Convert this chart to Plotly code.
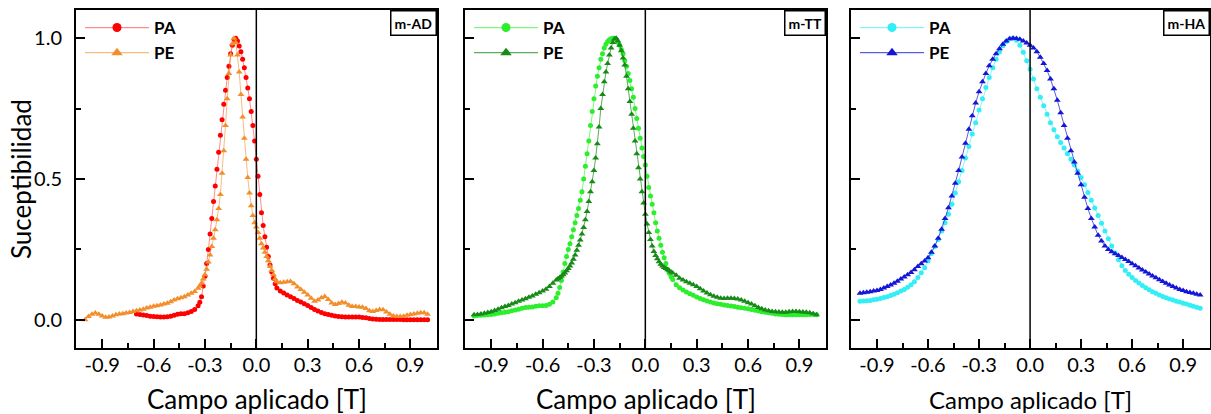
import plotly.graph_objects as go

# ---------------- data ----------------
# Panel m-AD
FIELD_AD_PA = [-0.70,-0.68,-0.66,-0.64,-0.62,-0.60,-0.58,-0.56,-0.54,-0.52,-0.50,-0.48,-0.46,-0.44,-0.42,-0.40,-0.38,-0.36,-0.34,
               -0.33,-0.32,-0.31,-0.30,-0.29,-0.28,-0.27,-0.26,-0.25,-0.24,-0.23,-0.22,-0.21,-0.20,-0.19,-0.18,-0.17,-0.16,-0.15,-0.14,-0.13,-0.12,
               -0.11,-0.10,-0.09,-0.08,-0.07,-0.06,-0.05,-0.04,-0.03,-0.02,-0.01,
               0.00,0.01,0.02,0.03,0.04,0.05,0.06,0.07,0.08,0.09,0.10,0.11,0.12,
               0.14,0.16,0.18,0.20,0.22,0.24,0.26,0.28,0.30,0.32,0.34,0.36,0.38,0.40,0.42,0.44,0.46,0.48,0.50,0.52,
               0.54,0.56,0.58,0.60,0.62,0.64,0.66,0.68,0.70,0.72,0.74,0.76,0.78,0.80,0.82,0.84,0.86,0.88,0.90,0.92,
               0.94,0.96,0.98,1.00]
SUSC_AD_PA = [0.021,0.019,0.017,0.015,0.013,0.012,0.011,0.010,0.010,0.011,0.013,0.016,0.020,0.022,0.022,0.025,0.030,0.037,0.050,
              0.062,0.082,0.12,0.155,0.20,0.25,0.305,0.36,0.42,0.475,0.535,0.595,0.655,0.71,0.765,0.815,0.86,0.90,0.945,0.975,0.995,1.0,
              0.99,0.972,0.952,0.925,0.895,0.86,0.823,0.785,0.74,0.69,0.635,
              0.57,0.51,0.445,0.38,0.335,0.295,0.258,0.225,0.195,0.17,0.148,0.128,0.113,
              0.102,0.095,0.088,0.082,0.076,0.069,0.063,0.057,0.051,0.044,0.037,0.031,0.026,0.022,0.019,0.016,0.014,0.012,0.011,0.010,
              0.010,0.010,0.010,0.010,0.008,0.007,0.005,0.003,0.002,0.001,0.001,0.001,0.001,0.001,0.001,0.001,0.000,0.000,0.000,0.000,
              0.000,0.000,0.000,0.000]

FIELD_AD_PE = [-1.00,-0.98,-0.96,-0.94,-0.92,-0.90,-0.88,-0.86,-0.84,-0.82,-0.80,-0.78,-0.76,-0.74,-0.72,-0.70,-0.68,-0.66,-0.64,-0.62,
               -0.60,-0.58,-0.56,-0.54,-0.52,-0.50,-0.48,-0.46,-0.44,-0.42,-0.40,-0.38,-0.36,-0.34,
               -0.33,-0.32,-0.31,-0.30,-0.29,-0.28,-0.27,-0.26,-0.25,-0.24,-0.23,-0.22,-0.21,-0.20,-0.19,-0.18,-0.17,-0.16,-0.15,-0.14,-0.13,-0.12,
               -0.11,-0.10,-0.09,-0.08,-0.07,-0.06,-0.05,-0.04,-0.03,-0.02,-0.01,
               0.00,0.01,0.02,0.03,0.04,0.05,0.06,0.07,0.08,0.09,0.10,0.11,0.12,
               0.14,0.16,0.18,0.20,0.22,0.24,0.26,0.28,0.30,0.32,0.34,0.36,0.38,0.40,0.42,0.44,0.46,0.48,0.50,0.52,
               0.54,0.56,0.58,0.60,0.62,0.64,0.66,0.68,0.70,0.72,0.74,0.76,0.78,0.80,0.82,0.84,0.86,0.88,0.90,0.92,
               0.94,0.96,0.98,1.00]
SUSC_AD_PE = [0.000,0.012,0.020,0.024,0.020,0.014,0.009,0.010,0.014,0.018,0.021,0.022,0.024,0.026,0.030,0.032,0.035,0.038,0.042,0.045,
              0.048,0.050,0.053,0.056,0.059,0.064,0.070,0.075,0.078,0.082,0.088,0.094,0.101,0.112,
              0.12,0.13,0.145,0.16,0.18,0.205,0.23,0.26,0.29,0.32,0.355,0.395,0.445,0.52,0.60,0.69,0.785,0.875,0.94,0.98,1.0,0.985,
              0.94,0.88,0.80,0.72,0.645,0.57,0.505,0.45,0.405,0.37,0.345,
              0.33,0.31,0.29,0.27,0.255,0.24,0.225,0.21,0.19,0.175,0.16,0.145,0.135,
              0.132,0.133,0.135,0.136,0.128,0.117,0.108,0.098,0.088,0.077,0.066,0.070,0.078,0.083,0.072,0.060,0.054,0.058,0.062,0.060,
              0.052,0.047,0.047,0.046,0.045,0.040,0.032,0.030,0.033,0.037,0.036,0.028,0.020,0.014,0.012,0.012,0.013,0.016,0.019,0.021,
              0.023,0.025,0.025,0.020]

# Panel m-TT
FIELD_TT = [-1.00,-0.98,-0.96,-0.94,-0.92,-0.90,-0.88,-0.86,-0.84,-0.82,-0.80,-0.78,-0.76,-0.74,-0.72,-0.70,-0.68,-0.66,-0.64,-0.62,
            -0.60,-0.58,-0.56,-0.54,-0.52,
            -0.51,-0.50,-0.49,-0.48,-0.47,-0.46,-0.45,-0.44,-0.43,-0.42,
            -0.41,-0.40,-0.39,-0.38,-0.37,-0.36,-0.35,-0.34,-0.33,-0.32,
            -0.31,-0.30,-0.29,-0.28,-0.27,-0.26,-0.25,-0.24,-0.23,-0.22,
            -0.21,-0.20,-0.19,-0.18,-0.17,-0.16,-0.15,-0.14,-0.13,-0.12,
            -0.11,-0.10,-0.09,-0.08,-0.07,-0.06,-0.05,-0.04,-0.03,-0.02,
            -0.01,0.00,0.01,0.02,0.03,0.04,0.05,0.06,0.07,0.08,
            0.09,0.10,0.11,0.12,0.13,0.14,0.15,0.16,
            0.18,0.20,0.22,0.24,0.26,0.28,0.30,0.32,0.34,0.36,
            0.38,0.40,0.42,0.44,0.46,0.48,0.50,0.52,0.54,0.56,
            0.58,0.60,0.62,0.64,0.66,0.68,0.70,0.72,0.74,0.76,
            0.78,0.80,0.82,0.84,0.86,0.88,0.90,0.92,0.94,0.96,
            0.98,1.00]
SUSC_TT_PA = [0.014,0.015,0.016,0.017,0.018,0.019,0.021,0.023,0.025,0.027,0.029,0.032,0.035,0.038,0.041,0.044,0.045,0.046,0.048,0.050,
              0.050,0.051,0.055,0.063,0.078,
              0.094,0.115,0.14,0.17,0.20,0.225,0.25,0.27,0.295,0.32,
              0.345,0.37,0.395,0.425,0.455,0.50,0.545,0.59,0.635,0.69,
              0.74,0.785,0.83,0.865,0.895,0.925,0.945,0.965,0.978,0.988,
              0.994,0.998,1.0,1.0,0.995,0.985,0.975,0.96,0.945,0.92,
              0.90,0.875,0.85,0.82,0.79,0.75,0.715,0.68,0.645,0.61,
              0.58,0.55,0.51,0.47,0.44,0.41,0.38,0.345,0.315,0.29,
              0.265,0.24,0.22,0.20,0.18,0.165,0.153,0.143,
              0.125,0.114,0.106,0.099,0.093,0.087,0.081,0.076,0.071,0.067,
              0.063,0.060,0.057,0.055,0.053,0.051,0.049,0.047,0.045,0.043,
              0.041,0.039,0.037,0.034,0.031,0.029,0.027,0.025,0.023,0.021,
              0.020,0.019,0.018,0.018,0.018,0.018,0.018,0.018,0.018,0.019,
              0.019,0.018]
SUSC_TT_PE = [0.018,0.019,0.021,0.023,0.026,0.029,0.033,0.038,0.043,0.047,0.051,0.056,0.061,0.066,0.070,0.075,0.080,0.085,0.091,0.096,
              0.102,0.109,0.118,0.130,0.141,
              0.146,0.150,0.155,0.160,0.166,0.174,0.182,0.191,0.202,0.215,
              0.23,0.247,0.265,0.283,0.305,0.328,0.355,0.385,0.42,0.455,
              0.49,0.53,0.575,0.625,0.685,0.75,0.80,0.845,0.88,0.91,
              0.94,0.965,0.985,0.997,1.0,0.99,0.975,0.955,0.93,0.905,
              0.865,0.82,0.775,0.73,0.68,0.635,0.59,0.54,0.50,0.455,
              0.415,0.375,0.34,0.31,0.285,0.262,0.243,0.228,0.217,0.206,
              0.197,0.191,0.186,0.182,0.178,0.174,0.17,0.166,
              0.158,0.148,0.141,0.135,0.130,0.125,0.118,0.110,0.102,0.095,
              0.089,0.084,0.080,0.077,0.076,0.077,0.077,0.076,0.074,0.070,
              0.066,0.061,0.056,0.050,0.044,0.039,0.035,0.032,0.030,0.029,
              0.028,0.027,0.027,0.029,0.030,0.030,0.029,0.028,0.027,0.025,
              0.022,0.018]

# Panel m-HA
FIELD_HA = [-1.00,-0.98,-0.96,-0.94,-0.92,-0.90,-0.88,-0.86,-0.84,-0.82,
            -0.80,-0.78,-0.76,-0.74,-0.72,-0.70,-0.68,-0.66,-0.64,-0.62,
            -0.60,-0.58,-0.56,-0.54,-0.52,-0.50,-0.48,-0.46,-0.44,-0.42,
            -0.40,-0.38,-0.36,-0.34,-0.32,-0.30,-0.28,-0.26,-0.24,-0.22,
            -0.20,-0.18,-0.16,-0.14,-0.12,-0.10,-0.08,-0.06,-0.04,-0.02,
            0.00,0.02,0.04,0.06,0.08,0.10,0.12,0.14,0.16,0.18,
            0.20,0.22,0.24,0.26,0.28,0.30,0.32,0.34,0.36,0.38,
            0.40,0.42,0.44,0.46,0.48,0.50,0.52,0.54,0.56,0.58,
            0.60,0.62,0.64,0.66,0.68,0.70,0.72,0.74,0.76,0.78,
            0.80,0.82,0.84,0.86,0.88,0.90,0.92,0.94,0.96,0.98,
            1.00]
SUSC_HA_PA = [0.066,0.067,0.068,0.069,0.071,0.073,0.076,0.079,0.082,0.086,
              0.091,0.096,0.102,0.108,0.116,0.125,0.135,0.150,0.167,0.185,
              0.21,0.235,0.26,0.285,0.315,0.345,0.375,0.41,0.45,0.49,
              0.53,0.575,0.615,0.66,0.70,0.745,0.785,0.825,0.86,0.895,
              0.925,0.952,0.973,0.988,0.997,1.0,0.993,0.975,0.95,0.92,
              0.89,0.855,0.82,0.79,0.76,0.73,0.70,0.675,0.65,0.63,
              0.61,0.59,0.57,0.55,0.528,0.505,0.48,0.452,0.425,0.397,
              0.37,0.343,0.315,0.288,0.262,0.237,0.213,0.192,0.175,0.162,
              0.150,0.140,0.131,0.122,0.114,0.107,0.100,0.094,0.088,0.083,
              0.078,0.074,0.070,0.066,0.063,0.059,0.056,0.052,0.048,0.045,
              0.041]
SUSC_HA_PE = [0.094,0.096,0.098,0.100,0.102,0.104,0.108,0.113,0.118,0.124,
              0.130,0.137,0.145,0.152,0.160,0.168,0.178,0.189,0.199,0.209,
              0.22,0.24,0.262,0.29,0.322,0.36,0.398,0.44,0.485,0.53,
              0.578,0.627,0.677,0.725,0.77,0.81,0.845,0.875,0.902,0.925,
              0.945,0.962,0.978,0.99,0.998,1.0,0.999,0.996,0.99,0.983,
              0.975,0.965,0.952,0.932,0.91,0.885,0.855,0.82,0.78,0.735,
              0.69,0.645,0.60,0.56,0.52,0.48,0.435,0.395,0.36,0.33,
              0.30,0.28,0.262,0.25,0.242,0.235,0.228,0.221,0.214,0.207,
              0.199,0.192,0.184,0.177,0.170,0.163,0.156,0.149,0.142,0.136,
              0.130,0.124,0.118,0.113,0.108,0.104,0.100,0.097,0.094,0.091,
              0.088]

SERIES_NAMES = ["PA", "PE"]
PANEL_LABELS = ["m-AD", "m-TT", "m-HA"]
X_TICKS = [-0.9, -0.6, -0.3, 0.0, 0.3, 0.6, 0.9]
X_TICK_LABELS = ["-0.9", "-0.6", "-0.3", "0.0", "0.3", "0.6", "0.9"]
Y_TICKS = [0.0, 0.5, 1.0]
Y_TICK_LABELS = ["0.0", "0.5", "1.0"]
X_TITLE = "Campo aplicado [T]"
Y_TITLE = "Suceptibilidad"

# ---------------- styling / layout ----------------
W, H = 1211, 414
FONT = "Lato"

def fx(p):
    return p / W

def fy(p):
    return 1 - p / H

panels = [
    dict(xd=[fx(76), fx(437)], pa=(FIELD_AD_PA, SUSC_AD_PA), pe=(FIELD_AD_PE, SUSC_AD_PE),
         c_pa="#ff0000", c_pe="#f28e2b", l_pa="rgba(255,0,0,0.45)", l_pe="rgba(242,142,43,0.6)", tsize=26),
    dict(xd=[fx(465), fx(826)], pa=(FIELD_TT, SUSC_TT_PA), pe=(FIELD_TT, SUSC_TT_PE),
         c_pa="#2cee2c", c_pe="#178a17", l_pa="rgba(44,238,44,0.6)", l_pe="rgba(23,138,23,0.7)", tsize=26),
    dict(xd=[fx(851), fx(1209.5)], pa=(FIELD_HA, SUSC_HA_PA), pe=(FIELD_HA, SUSC_HA_PE),
         c_pa="#33eef5", c_pe="#1515d8", l_pa="rgba(51,238,245,0.6)", l_pe="rgba(21,21,216,0.7)", tsize=24),
]
YD = [fy(348), fy(10)]
XR = [-1.053, 1.055]
YR = [-0.1, 1.1]

fig = go.Figure()
layout = dict(
    width=W, height=H, margin=dict(l=0, r=0, t=0, b=0),
    paper_bgcolor="white", plot_bgcolor="white",
    font=dict(family=FONT, color="black"),
    showlegend=True, shapes=[], annotations=[],
)

for i, p in enumerate(panels):
    n = "" if i == 0 else str(i + 1)
    xa, ya = "x" + n, "y" + n
    leg = "legend" + n
    for key, sym, msize, col, lcol, nm in [
        ("pa", "circle", 5, p["c_pa"], p["l_pa"], SERIES_NAMES[0]),
        ("pe", "triangle-up", 6, p["c_pe"], p["l_pe"], SERIES_NAMES[1]),
    ]:
        xs, ys = p[key]
        fig.add_trace(go.Scatter(
            x=xs, y=ys, mode="lines+markers", xaxis=xa, yaxis=ya,
            line=dict(color=lcol, width=1),
            marker=dict(symbol=sym, size=msize, color=col, line=dict(width=0)),
            showlegend=False, hoverinfo="skip"))
        # legend entry with larger symbol
        fig.add_trace(go.Scatter(
            x=[None], y=[None], mode="lines+markers", xaxis=xa, yaxis=ya,
            line=dict(color=lcol, width=1.2),
            marker=dict(symbol=sym, size=9 if sym == "circle" else 10, color=col, line=dict(width=0)),
            name="<b>%s</b>" % nm, legend=leg, showlegend=True))

    layout["xaxis" + n] = dict(
        domain=p["xd"], anchor=ya, range=XR, showline=True, linecolor="black", linewidth=2,
        mirror=True, ticks="inside", ticklen=9, tickwidth=1.5, tickcolor="black",
        tickmode="array", tickvals=X_TICKS, ticktext=X_TICK_LABELS, ticklabelstandoff=-2,
        tickfont=dict(family=FONT, size=20, color="black"),
        minor=dict(ticks="inside", ticklen=5, tickwidth=1.5, tickcolor="black",
                   tickmode="linear", tick0=0, dtick=0.15),
        showgrid=False, zeroline=False)
    layout["yaxis" + n] = dict(
        domain=YD, anchor=xa, range=YR, showline=True, linecolor="black", linewidth=2,
        mirror=True, ticks="inside", ticklen=9, tickwidth=1.5, tickcolor="black",
        tickmode="array", tickvals=Y_TICKS, ticktext=Y_TICK_LABELS,
        showticklabels=(i == 0), ticklabelstandoff=8,
        tickfont=dict(family=FONT, size=20, color="black"),
        minor=dict(ticks="inside", ticklen=5, tickwidth=1.5, tickcolor="black",
                   tickmode="linear", tick0=0, dtick=0.25),
        showgrid=False, zeroline=False)
    layout[leg] = dict(
        x=p["xd"][0] + fx(4), xanchor="left", y=fy(10), yanchor="top",
        bgcolor="rgba(0,0,0,0)", borderwidth=0,
        font=dict(family=FONT, size=17, color="black"),
        tracegroupgap=0, itemwidth=64)
    layout["shapes"].append(dict(
        type="line", xref=xa, yref=ya + " domain", x0=0, x1=0, y0=0, y1=1,
        line=dict(color="black", width=1.5)))
    layout["annotations"].append(dict(
        text="<b>%s</b>" % PANEL_LABELS[i], xref=xa + " domain", yref=ya + " domain",
        x=1, y=1, xanchor="right", yanchor="top", showarrow=False,
        font=dict(family=FONT, size=14, color="black"),
        bordercolor="black", borderwidth=1.5, borderpad=3, bgcolor="white"))
    layout["annotations"].append(dict(
        text=X_TITLE, xref=xa + " domain", yref="paper", x=0.5, y=fy(399),
        xanchor="center", yanchor="middle", showarrow=False,
        font=dict(family=FONT, size=p["tsize"], color="black")))

layout["annotations"].append(dict(
    text=Y_TITLE, xref="paper", yref="paper", x=fx(21), y=fy(179),
    xanchor="center", yanchor="middle", textangle=-90, showarrow=False,
    font=dict(family=FONT, size=26, color="black")))

fig.update_layout(**layout)
fig.write_html("out.html", config={"displayModeBar": False},
               post_script="document.body.style.margin='0';document.body.style.overflow='hidden';")
